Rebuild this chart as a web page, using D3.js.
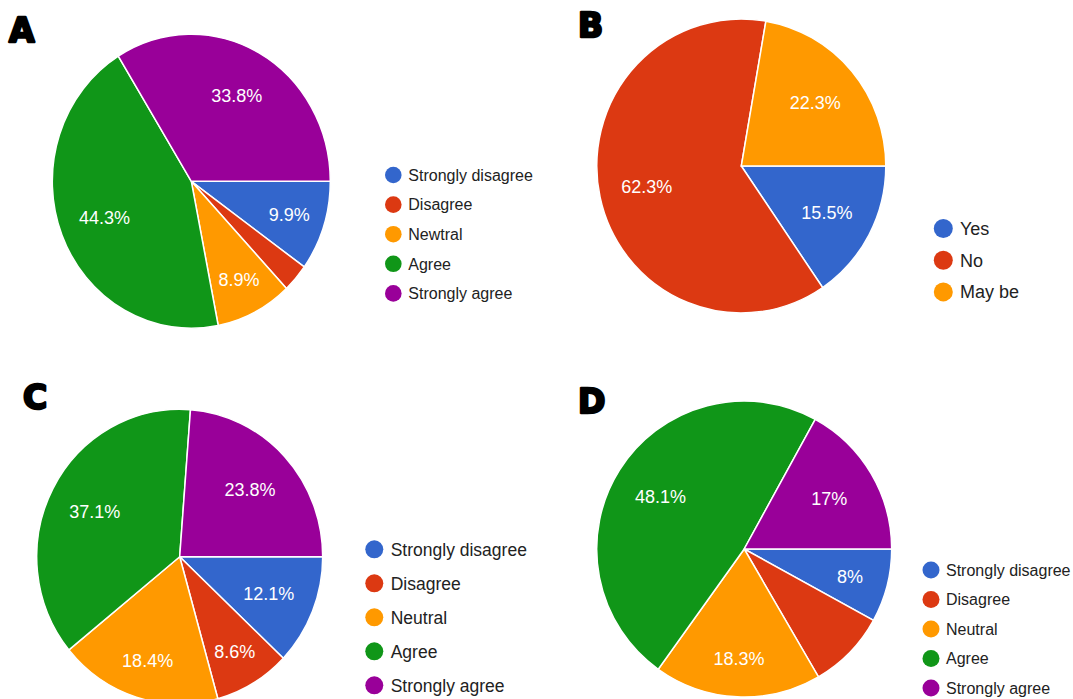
<!DOCTYPE html>
<html>
<head>
<meta charset="utf-8">
<script src="https://cdn.jsdelivr.net/npm/d3@7"></script>
<style>
  html, body { margin: 0; padding: 0; background: #ffffff; }
  svg { display: block; }
</style>
</head>
<body>
<svg id="chart" width="1073" height="699"></svg>
<script>
// Survey response shares (percent of respondents)
const likertCategoriesA = ["Strongly disagree", "Disagree", "Newtral", "Agree", "Strongly agree"];
const likertCategories = ["Strongly disagree", "Disagree", "Neutral", "Agree", "Strongly agree"];
const yesNoCategories = ["Yes", "No", "May be"];

const valuesA = [9.9, 3.1, 8.9, 44.3, 33.8];
const valuesB = [15.5, 62.3, 22.3];
const valuesC = [12.1, 8.6, 18.4, 37.1, 23.8];
const valuesD = [8, 8.6, 18.3, 48.1, 17];

const palette = ["#3366cc", "#dc3912", "#ff9900", "#109618", "#990099"];

// Layout for each panel
const panels = [
  { tag: "A", tagX: 8, tagY: 43, categories: likertCategoriesA, values: valuesA,
    cx: 191.3, cy: 181.3, rx: 139, ry: 147, unlabeled: ["Disagree"],
    legX: 393.3, legY: 175, legStep: 29.6, dotR: 8.3, legFont: 16, textX: 408.3 },
  { tag: "B", tagX: 577, tagY: 38, categories: yesNoCategories, values: valuesB,
    cx: 741.3, cy: 166, rx: 144.5, ry: 147, unlabeled: [],
    legX: 943.3, legY: 228.5, legStep: 31.7, dotR: 9.5, legFont: 18, textX: 960 },
  { tag: "C", tagX: 22, tagY: 410, categories: likertCategories, values: valuesC,
    cx: 179.7, cy: 556.7, rx: 143, ry: 147.4, unlabeled: [],
    legX: 374.3, legY: 549.3, legStep: 34, dotR: 9, legFont: 17.5, textX: 390.7 },
  { tag: "D", tagX: 577, tagY: 414, categories: likertCategories, values: valuesD,
    cx: 744.2, cy: 549, rx: 147.5, ry: 148, unlabeled: ["Disagree"],
    legX: 931, legY: 570, legStep: 29.5, dotR: 8.5, legFont: 16, textX: 946 }
];

const svg = d3.select("#chart");

const pie = d3.pie()
  .sort(null)
  .value(d => d.value)
  .startAngle(Math.PI / 2)
  .endAngle(Math.PI / 2 + 2 * Math.PI);

const fmt = v => `${+v.toFixed(1)}%`;

panels.forEach(p => {
  const color = d3.scaleOrdinal().domain(p.categories).range(palette);
  const rows = p.categories.map((c, i) => ({ category: c, value: p.values[i] }));
  const arcs = pie(rows);

  const g = svg.append("g");

  // slices: drawn on a circle of radius rx and stretched to the panel's ellipse
  const arc = d3.arc().innerRadius(0).outerRadius(p.rx);
  g.append("g")
    .attr("transform", `translate(${p.cx},${p.cy}) scale(1,${p.ry / p.rx})`)
    .selectAll("path")
    .data(arcs)
    .join("path")
    .attr("d", arc)
    .attr("fill", d => color(d.data.category))
    .attr("stroke", "#ffffff")
    .attr("stroke-width", 1.5)
    .attr("vector-effect", "non-scaling-stroke");

  // percentage labels inside the slices
  g.append("g")
    .selectAll("text")
    .data(arcs.filter(d => !p.unlabeled.includes(d.data.category)))
    .join("text")
    .attr("x", d => {
      const a = (d.startAngle + d.endAngle) / 2;
      return p.cx + labelRadius(d, a) * p.rx * Math.sin(a);
    })
    .attr("y", d => {
      const a = (d.startAngle + d.endAngle) / 2;
      return p.cy - labelRadius(d, a) * p.ry * Math.cos(a);
    })
    .attr("text-anchor", "middle")
    .attr("dy", "0.36em")
    .attr("fill", "#ffffff")
    .style("font-family", "'Liberation Sans', Arial, sans-serif")
    .style("font-size", "18px")
    .text(d => fmt(d.data.value));

  // legend
  const leg = g.append("g")
    .selectAll("g")
    .data(p.categories)
    .join("g")
    .attr("transform", (d, i) => `translate(0,${p.legY + i * p.legStep})`);
  leg.append("circle")
    .attr("cx", p.legX)
    .attr("cy", 0)
    .attr("r", p.dotR)
    .attr("fill", d => color(d));
  leg.append("text")
    .attr("x", p.textX)
    .attr("y", 0)
    .attr("dy", "0.36em")
    .attr("fill", "#222222")
    .style("font-family", "'Liberation Sans', Arial, sans-serif")
    .style("font-size", p.legFont + "px")
    .text(d => d);

  // panel letter
  svg.append("text")
    .attr("x", p.tagX + 1)
    .attr("y", p.tagY - 1)
    .attr("fill", "#000000")
    .attr("stroke", "#000000")
    .attr("stroke-width", 2.4)
    .attr("stroke-linejoin", "round")
    .style("font-family", "'DejaVu Sans', sans-serif")
    .style("font-weight", "bold")
    .style("font-size", "33px")
    .text(p.tag);
});

// labels of thin or lower slices sit further out from the centre
function labelRadius(d, a) {
  let f = 0.67;
  if (d.data.value < 10) f += 0.07;
  if (-Math.cos(a) > 0.7) f += 0.07;
  return Math.min(f, 0.75);
}
</script>
</body>
</html>
